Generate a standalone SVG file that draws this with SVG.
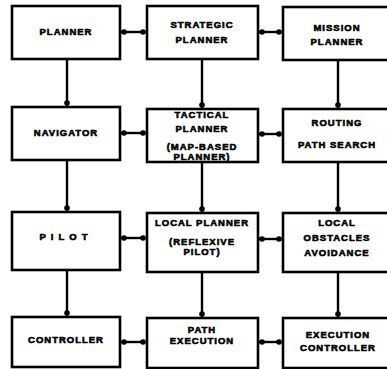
<svg xmlns="http://www.w3.org/2000/svg" width="387" height="369" viewBox="0 0 387 369">
  <style>
    .box { fill: #fff; stroke: #000; stroke-width: 2.6; }
    .lbl { font-family: "Liberation Sans", Arial, sans-serif; font-weight: bold; font-size: 9.5px; letter-spacing: 1px; text-anchor: middle; fill: #000; stroke: #000; stroke-width: 0.6; }
    .wire { stroke: #000; stroke-width: 2.4; fill: none; }
    .both { marker-start: url(#dot); marker-end: url(#dot); }
    .down { marker-end: url(#dot); }
  </style>
  <defs>
    <!-- small round dot set 4px inside each line end -->
    <marker id="dot" viewBox="-5 -5 10 10" refX="4" refY="0" markerWidth="10" markerHeight="10" markerUnits="userSpaceOnUse" orient="auto-start-reverse" overflow="visible">
      <circle cx="0" cy="0" r="2.8" fill="#000"/>
    </marker>
  </defs>

  <rect width="387" height="369" fill="#fff"/>

  <g id="connectors">
    <!-- row links -->
    <line class="wire both" x1="120" y1="32" x2="147" y2="32"/>
    <line class="wire both" x1="258" y1="32" x2="283" y2="32"/>
    <line class="wire both" x1="120" y1="133" x2="147" y2="133"/>
    <line class="wire both" x1="258" y1="134" x2="283" y2="134"/>
    <line class="wire both" x1="120" y1="238" x2="147" y2="238"/>
    <line class="wire both" x1="258" y1="239" x2="283" y2="239"/>
    <line class="wire both" x1="120" y1="342" x2="147" y2="342"/>
    <line class="wire both" x1="258" y1="342" x2="283" y2="342"/>
    <!-- column links -->
    <line class="wire down" x1="67" y1="59" x2="67" y2="107"/>
    <line class="wire down" x1="202" y1="59" x2="202" y2="109"/>
    <line class="wire down" x1="338" y1="60" x2="338" y2="109"/>
    <line class="wire down" x1="67" y1="160" x2="67" y2="212"/>
    <line class="wire down" x1="202" y1="162" x2="202" y2="213"/>
    <line class="wire down" x1="338" y1="162" x2="338" y2="213"/>
    <line class="wire down" x1="67" y1="270" x2="67" y2="317"/>
    <line class="wire down" x1="202" y1="272" x2="202" y2="318"/>
    <line class="wire down" x1="338" y1="272" x2="338" y2="318"/>
  </g>

  <g id="planner">
    <rect class="box" x="12" y="6" width="108" height="53"/>
    <text class="lbl" x="66" y="35">PLANNER</text>
  </g>
  <g id="strategic-planner">
    <rect class="box" x="147" y="6" width="111" height="53"/>
    <text class="lbl" x="202" y="28">STRATEGIC</text>
    <text class="lbl" x="202" y="43">PLANNER</text>
  </g>
  <g id="mission-planner">
    <rect class="box" x="283" y="7" width="106" height="53"/>
    <text class="lbl" x="337" y="31">MISSION</text>
    <text class="lbl" x="337" y="45">PLANNER</text>
  </g>

  <g id="navigator">
    <rect class="box" x="12" y="107" width="108" height="53"/>
    <text class="lbl" x="66" y="136">NAVIGATOR</text>
  </g>
  <g id="tactical-planner">
    <rect class="box" x="147" y="109" width="111" height="53"/>
    <text class="lbl" x="202" y="118">TACTICAL</text>
    <text class="lbl" x="202" y="132">PLANNER</text>
    <text class="lbl" x="202" y="150">(MAP-BASED</text>
    <text class="lbl" x="202" y="160">PLANNER)</text>
  </g>
  <g id="routing">
    <rect class="box" x="283" y="109" width="106" height="53"/>
    <text class="lbl" x="337" y="126">ROUTING</text>
    <text class="lbl" x="337" y="148">PATH SEARCH</text>
  </g>

  <g id="pilot">
    <rect class="box" x="12" y="212" width="108" height="58"/>
    <text class="lbl" x="66" y="240" style="letter-spacing:5px">PILOT</text>
  </g>
  <g id="local-planner">
    <rect class="box" x="147" y="213" width="111" height="59"/>
    <text class="lbl" x="202" y="226">LOCAL PLANNER</text>
    <text class="lbl" x="202" y="245">(REFLEXIVE</text>
    <text class="lbl" x="202" y="255">PILOT)</text>
  </g>
  <g id="local-obstacles-avoidance">
    <rect class="box" x="283" y="213" width="106" height="59"/>
    <text class="lbl" x="337" y="226">LOCAL</text>
    <text class="lbl" x="337" y="241">OBSTACLES</text>
    <text class="lbl" x="337" y="256">AVOIDANCE</text>
  </g>

  <g id="controller">
    <rect class="box" x="12" y="317" width="108" height="50"/>
    <text class="lbl" x="66" y="343">CONTROLLER</text>
  </g>
  <g id="path-execution">
    <rect class="box" x="147" y="318" width="111" height="50"/>
    <text class="lbl" x="202" y="333">PATH</text>
    <text class="lbl" x="202" y="344">EXECUTION</text>
  </g>
  <g id="execution-controller">
    <rect class="box" x="283" y="318" width="106" height="50"/>
    <text class="lbl" x="338" y="338">EXECUTION</text>
    <text class="lbl" x="338" y="351">CONTROLLER</text>
  </g>
</svg>
